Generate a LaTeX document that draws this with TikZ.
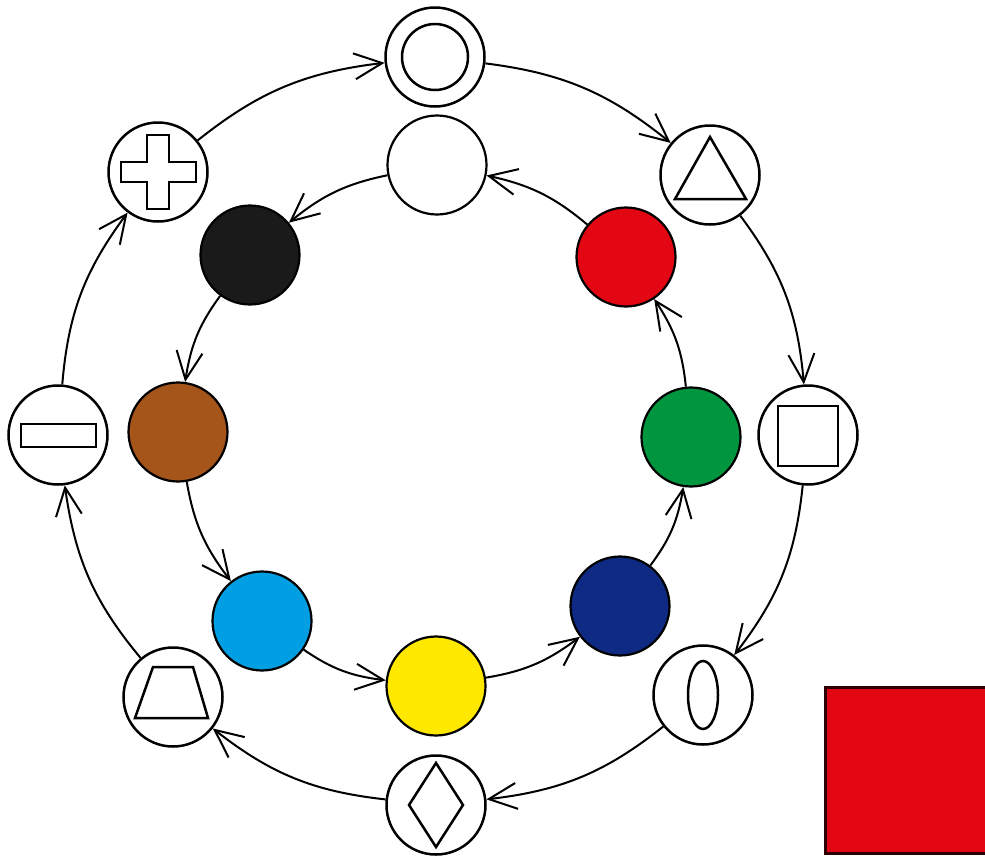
\documentclass[tikz,border=0pt]{standalone}
\usetikzlibrary{arrows.meta,bending}
\definecolor{cred}{HTML}{E30613}
\definecolor{cgreen}{HTML}{009640}
\definecolor{cdblue}{HTML}{0F2A83}
\definecolor{cyellow}{HTML}{FFE800}
\definecolor{clblue}{HTML}{009FE3}
\definecolor{cbrown}{HTML}{A5541A}
\definecolor{cblack}{HTML}{1A1A1A}
\begin{document}
\begin{tikzpicture}[x=0.5pt,y=-0.5pt,
  ring/.style={circle,draw,line width=1.25pt,minimum size=49.5pt,inner sep=0pt,fill=white},
  dot/.style={circle,draw,line width=1.1pt,minimum size=49.5pt,inner sep=0pt},
  arr/.style={line width=1pt,-{Straight Barb[length=14pt,width=13pt,flex]}},
  glyph/.style={draw,line width=1.25pt,line join=miter}]
\useasboundingbox (0,0) rectangle (985,857);
% outer ring nodes
\node[ring] (o1) at (435,57) {};
\node[ring] (o2) at (710,175) {};
\node[ring] (o3) at (808,435) {};
\node[ring] (o4) at (703,695) {};
\node[ring] (o5) at (436,805) {};
\node[ring] (o6) at (173,697) {};
\node[ring] (o7) at (58,435) {};
\node[ring] (o8) at (158,172) {};
% inner ring nodes
\node[dot,fill=white]   (iw) at (437,165) {};
\node[dot,fill=cred]    (ir) at (626,257) {};
\node[dot,fill=cgreen]  (ig) at (691,437) {};
\node[dot,fill=cdblue]  (ib) at (620,606) {};
\node[dot,fill=cyellow] (iy) at (436,686) {};
\node[dot,fill=clblue]  (il) at (262,621) {};
\node[dot,fill=cbrown]  (in) at (178,432) {};
\node[dot,fill=cblack]  (ik) at (250,255) {};
% glyphs inside outer nodes
\draw[glyph] (o1.center) circle[radius=33];
\draw[glyph,shift={(o2.center)}] (0,-38) -- (-35,24) -- (36,24) -- cycle;
\draw[glyph,shift={(o3.center)}] (-30,-29) rectangle (30,31);
\draw[glyph] (o4.center) ellipse[x radius=15,y radius=34];
\draw[glyph,shift={(o5.center)}] (0,-42) -- (27,0) -- (0,42) -- (-27,0) -- cycle;
\draw[glyph,shift={(o6.center)}] (-20,-30) -- (20,-30) -- (35,21) -- (-38,21) -- cycle;
\draw[glyph,shift={(o7.center)}] (-37,-11) rectangle (38,12);
\draw[glyph,shift={(o8.center)}] (-11,-37) -- (11,-37) -- (11,-10) -- (38,-10) -- (38,10) -- (11,10)
  -- (11,37) -- (-11,37) -- (-11,10) -- (-37,10) -- (-37,-10) -- (-11,-10) -- cycle;
% outer arrows (clockwise)
\draw[arr] (o1) to[bend left=16] (o2);
\draw[arr] (o2) to[bend left=16] (o3);
\draw[arr] (o3) to[bend left=16] (o4);
\draw[arr] (o4) to[bend left=16] (o5);
\draw[arr] (o5) to[bend left=16] (o6);
\draw[arr] (o6) to[bend left=16] (o7);
\draw[arr] (o7) to[bend left=16] (o8);
\draw[arr] (o8) to[bend left=16] (o1);
% inner arrows (counterclockwise)
\draw[arr] (ir) to[bend right=14] (iw);
\draw[arr] (iw) to[bend right=14] (ik);
\draw[arr] (ik) to[bend right=14] (in);
\draw[arr] (in) to[bend right=14] (il);
\draw[arr] (il) to[bend right=14] (iy);
\draw[arr] (iy) to[bend right=14] (ib);
\draw[arr] (ib) to[bend right=14] (ig);
\draw[arr] (ig) to[bend right=14] (ir);
% red square
\node[draw=black!80!cred,line width=1.3pt,fill=cred,minimum width=85pt,minimum height=83pt,inner sep=0pt,anchor=north west] (sq) at (824,686) {};
\end{tikzpicture}
\end{document}
